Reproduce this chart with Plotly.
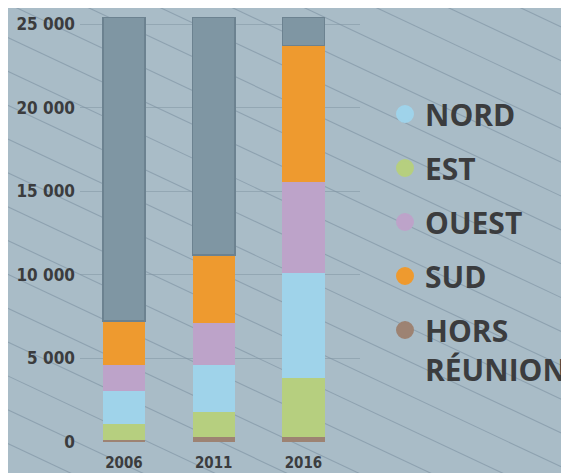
import plotly.graph_objects as go

years = ["2006", "2011", "2016"]
hors_reunion = [120, 320, 320]
est = [980, 1460, 3530]
nord = [1950, 2820, 6240]
ouest = [1540, 2500, 5480]
sud = [2650, 4080, 8170]
total = [25400, 25400, 25400]

y_ticks = [0, 5000, 10000, 15000, 20000, 25000]
y_tick_labels = ["0", "5 000", "10 000", "15 000", "20 000", "25 000"]

W, H = 569, 473
OFF = 8  # page body margin
# plot area in screen pixels: x 80..360, y 16..442
ML, MT = 80 - OFF, 16 - OFF
MR, MB = W - (360 - OFF), H - (442 - OFF)
BG = "#a9bcc7"
TXT = "#3b3c3e"


def px(x):
    return (x - OFF - ML) / (W - ML - MR)


def py(y):
    return (H - MB - (y - OFF)) / (H - MT - MB)


reste = [t - (a + b + c + d + e) for t, a, b, c, d, e in
         zip(total, hors_reunion, est, nord, ouest, sud)]

fig = go.Figure()
series = [
    ("HORS<br>RÉUNION", hors_reunion, "#9d8373"),
    ("EST", est, "#b6cf7f"),
    ("NORD", nord, "#9fd3ea"),
    ("OUEST", ouest, "#bda3c9"),
    ("SUD", sud, "#ee9a2f"),
]
for name, vals, col in series:
    fig.add_trace(go.Bar(x=years, y=vals, name=name, marker_color=col,
                         marker_line_width=0, showlegend=False, width=0.47))
fig.add_trace(go.Bar(x=years, y=reste, marker_color="#7f96a3",
                     marker_line=dict(color="#6c8290", width=1.5),
                     showlegend=False, width=0.47))

# legend with round markers
legend_order = ["NORD", "EST", "OUEST", "SUD", "HORS<br>RÉUNION"]
colors = {n: c for n, _, c in series}
for i, name in enumerate(legend_order):
    fig.add_trace(go.Scatter(x=[None], y=[None], mode="markers", name=name,
                             marker=dict(color=colors[name], size=20, symbol="circle",
                                         line=dict(color=colors[name], width=2)),
                             legendgroup=str(i)))

# diagonal hatch background
shapes = []
slope = 0.47
for k in range(-20, 12):
    x0 = k * 72
    shapes.append(dict(type="line", xref="paper", yref="paper", layer="below",
                       x0=px(x0), y0=py(0), x1=px(x0 + 500 / slope), y1=py(500),
                       line=dict(color="#8ea2b0", width=1.1)))
# white curved edge at top right
shapes.append(dict(type="path", xref="paper", yref="paper", layer="below",
                   path=f"M {px(455)},{py(-2)} Q {px(520)},{py(3)} {px(580)},{py(7)} "
                        f"L {px(580)},{py(-2)} Z",
                   fillcolor="white", line=dict(width=0)))

fig.update_layout(
    barmode="stack",
    width=W, height=H,
    margin=dict(l=ML, r=MR, t=MT, b=MB, autoexpand=False),
    paper_bgcolor=BG, plot_bgcolor="rgba(0,0,0,0)",
    shapes=shapes,
    bargap=0.5,
    font=dict(family="DejaVu Sans Condensed, Liberation Sans Narrow, Open Sans", color=TXT),
    xaxis=dict(type="category", range=[-0.49, 2.63], showgrid=False, zeroline=False,
               showline=False, ticks="", automargin=False, ticklabelstandoff=10,
               tickfont=dict(size=15, weight="bold", color=TXT)),
    yaxis=dict(range=[0, 25500], tickvals=y_ticks, ticktext=y_tick_labels,
               showgrid=True, gridcolor="rgba(125,145,160,0.5)", gridwidth=1,
               zeroline=False, showline=False, ticks="", automargin=False,
               ticklabelstandoff=4,
               tickfont=dict(size=17, weight="bold", color=TXT)),
    legend=dict(xref="container", yref="container",
                x=377 / W, y=1 - 80 / H, xanchor="left", yanchor="top",
                maxheight=420,
                font=dict(family="Open Sans", size=30, weight=700, color=TXT),
                bgcolor="rgba(0,0,0,0)", tracegroupgap=12, valign="top",
                itemclick=False),
)

fig.write_html("out.html")
